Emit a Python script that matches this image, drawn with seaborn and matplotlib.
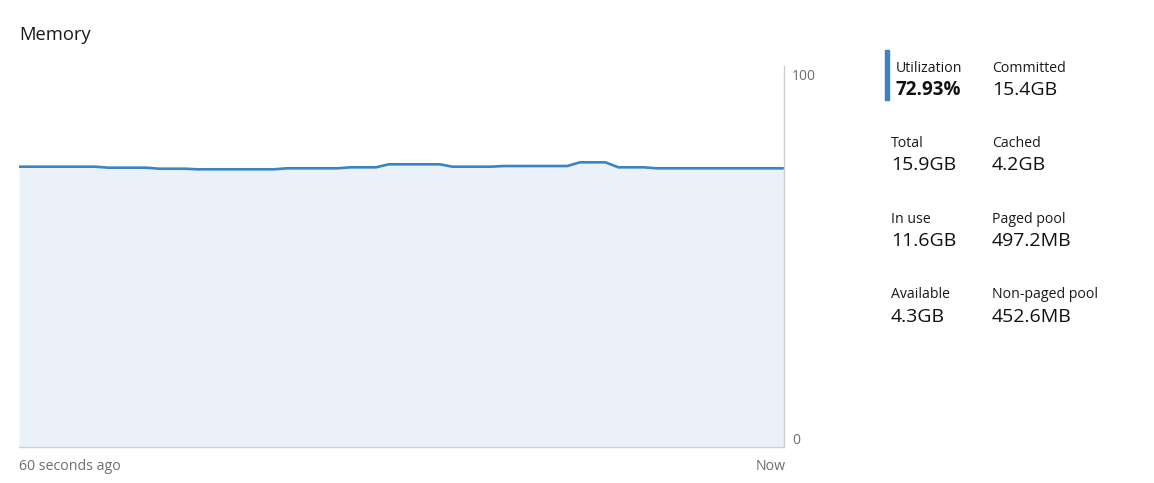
"""
Memory panel — Task Manager style utilization chart.
"""

import numpy as np
import pandas as pd
import matplotlib
matplotlib.use("Agg")
import matplotlib.pyplot as plt
import seaborn as sns

# --- data -------------------------------------------------------------
seconds = list(range(-60, 1))
usage = ([73.57] * 7 + [73.31] * 4 + [73.04] * 3 + [72.89] * 7 +
         [73.15] * 5 + [73.41] * 3 + [74.20] * 5 + [73.57] * 4 +
         [73.75] * 6 + [74.72] * 3 + [73.41] * 3 + [73.15] * 11)

stat_labels = ["Utilization", "Committed", "Total", "Cached",
               "In use", "Paged pool", "Available", "Non-paged pool"]
stat_values = ["72.93%", "15.4GB", "15.9GB", "4.2GB",
               "11.6GB", "497.2MB", "4.3GB", "452.6MB"]

y_ticks = [0, 100]
x_tick_labels = ["60 seconds ago", "Now"]

LINE = "#3b84c4"
FILL = "#eaf1f8"
SPINE = "#cfcfcf"
GREY = "#6d6d6d"

sns.set_theme(style="white")
plt.rcParams["font.family"] = ["Open Sans", "DejaVu Sans"]

W, H = 1154, 483
fig = plt.figure(figsize=(W / 100, H / 100), dpi=100)
ax = fig.add_axes([19 / W, 1 - 447 / H, (784 - 19) / W, (447 - 66) / H])

df = pd.DataFrame({"sec": seconds, "usage": usage})
ax.fill_between(df["sec"], df["usage"], 0, color=FILL, lw=0)
sns.lineplot(data=df, x="sec", y="usage", ax=ax, color=LINE, lw=1.9)

ax.set_xlim(seconds[0], seconds[-1])
ax.set_ylim(y_ticks[0], y_ticks[-1])
ax.set_xticks([])
ax.set_yticks([])
ax.set_xlabel("")
ax.set_ylabel("")
for side in ["top", "left"]:
    ax.spines[side].set_visible(False)
for side in ["bottom", "right"]:
    ax.spines[side].set_color(SPINE)
    ax.spines[side].set_linewidth(1.0)


def px_text(x, y, s, **kw):
    """Place text using pixel coords measured from the top-left."""
    fig.text(x / W, 1 - y / H, s, va="center", **kw)


# axis annotations
px_text(792, 77, str(y_ticks[-1]), ha="left", fontsize=10, color=GREY)
px_text(792, 441, str(y_ticks[0]), ha="left", fontsize=10, color=GREY)
px_text(19, 467, x_tick_labels[0], ha="left", fontsize=10.2, color=GREY)
px_text(786, 467, x_tick_labels[1], ha="right", fontsize=10.2, color=GREY)

px_text(19, 35, "Memory", ha="left", fontsize=13.2, color="#1a1a1a")

# stats panel
fig.patches.append(plt.Rectangle((885 / W, 1 - 100 / H), 4 / W, 50 / H,
                                 transform=fig.transFigure, color=LINE))
col_x = [891, 992]
row_y = [68, 143, 219, 295]
for i, (lab, val) in enumerate(zip(stat_labels, stat_values)):
    r, c = divmod(i, 2)
    x = col_x[c] + (5 if i == 0 else 0)
    px_text(x, row_y[r], lab, ha="left", fontsize=10.2, color="#1a1a1a")
    px_text(x, row_y[r] + 22, val, ha="left",
            fontsize=14 if i else 13.5, color="#111111",
            fontweight="bold" if i == 0 else "normal")

fig.savefig("out.png", dpi=100)
